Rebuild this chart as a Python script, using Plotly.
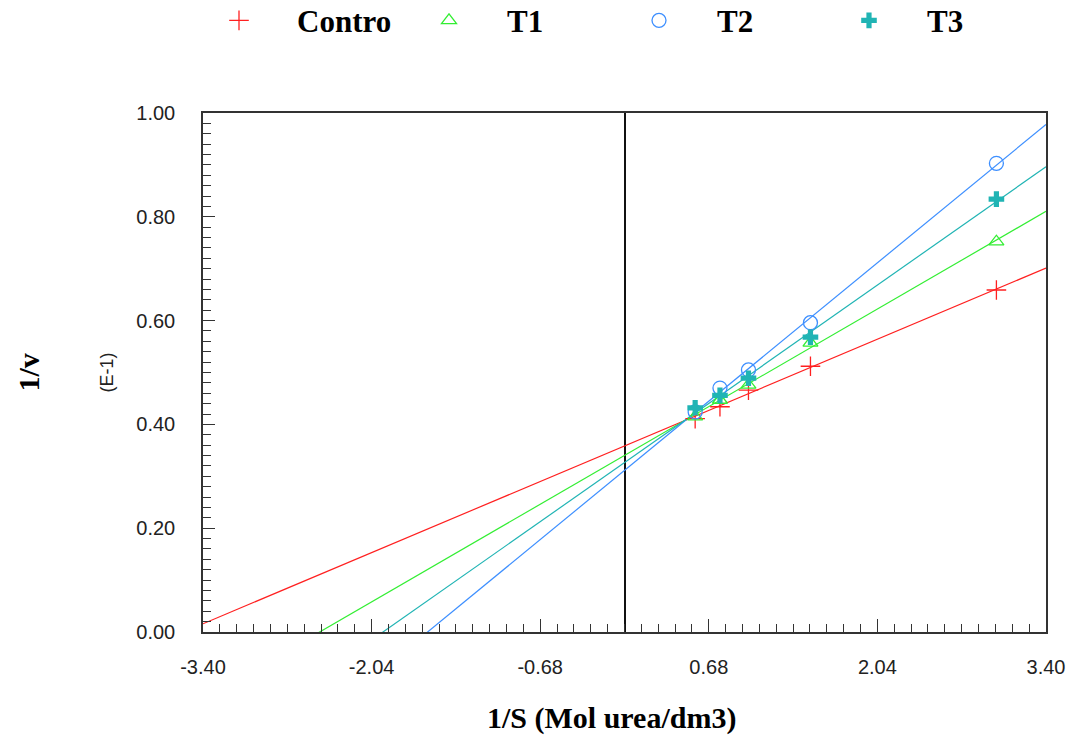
import numpy as np
import plotly.graph_objects as go

# ---- data ----
inv_s = [0.57, 0.77, 1.00, 1.50, 3.00]
control = [0.411, 0.434, 0.466, 0.512, 0.659]
t1 = [0.415, 0.447, 0.476, 0.557, 0.752]
t2 = [0.424, 0.470, 0.505, 0.596, 0.903]
t3 = [0.432, 0.456, 0.489, 0.568, 0.834]

series_names = ["Contro", "T1", "T2", "T3"]
series_values = [control, t1, t2, t3]
colors = ["#ff2020", "#33ee33", "#3d8fff", "#20b4b4"]
symbols = ["cross-thin-open", "triangle-up-open", "circle-open", "cross"]
marker_sizes = [14, 13, 14, 13]

x_range = [-3.40, 3.40]
y_range = [0.0, 1.0]
x_tickvals = [-3.40, -2.04, -0.68, 0.68, 2.04, 3.40]
y_tickvals = [0.0, 0.2, 0.4, 0.6, 0.8, 1.0]

fig = go.Figure()

line_x = np.array(x_range)
for name, vals, col, sym, ms in zip(series_names, series_values, colors, symbols, marker_sizes):
    slope, intercept = np.polyfit(inv_s, vals, 1)
    fig.add_trace(go.Scatter(
        x=line_x, y=slope * line_x + intercept, mode="lines",
        line=dict(color=col, width=1.2), showlegend=False, hoverinfo="skip",
    ))
for name, vals, col, sym, ms in zip(series_names, series_values, colors, symbols, marker_sizes):
    mk = dict(symbol=sym, size=ms, color=col, line=dict(color=col, width=1.3))
    if sym == "cross":
        mk = dict(symbol=sym, size=ms, color=col, line=dict(width=0))
    fig.add_trace(go.Scatter(
        x=inv_s, y=vals, mode="markers", name=name, marker=mk, cliponaxis=False,
    ))

x_minor = np.round(np.arange(x_range[0], x_range[1] + 1e-9, 0.136), 3)
y_minor = np.round(np.arange(0, 1.0001, 0.02), 3)

axis_common = dict(
    showline=True, mirror=True, linecolor="#333333", linewidth=1.5,
    showgrid=False, ticks="inside", tickcolor="#333333", tickwidth=1.2,
    tickfont=dict(family="Liberation Sans, Arial", size=20, color="#222222"),
)

fig.update_xaxes(
    range=x_range, tickmode="array", tickvals=x_tickvals,
    ticktext=[f"{v:.2f}" for v in x_tickvals], ticklen=13,
    zeroline=True, zerolinecolor="#111111", zerolinewidth=1.5,
    minor=dict(tickmode="array", tickvals=list(x_minor), ticks="inside",
               ticklen=8, tickcolor="#333333", tickwidth=1.2),
    ticklabelstandoff=16,
    **axis_common,
)
fig.update_yaxes(
    range=y_range, tickmode="array", tickvals=y_tickvals,
    ticktext=[f"{v:.2f}" for v in y_tickvals], ticklen=12,
    zeroline=False,
    minor=dict(tickmode="array", tickvals=list(y_minor), ticks="inside",
               ticklen=8, tickcolor="#333333", tickwidth=1.2),
    ticklabelstandoff=22,
    **axis_common,
)

fig.add_annotation(
    text="1/S (Mol urea/dm3)", xref="paper", yref="paper", x=0.484, y=0,
    yshift=-86, xanchor="center", yanchor="middle", showarrow=False,
    font=dict(family="Liberation Serif, Times New Roman", size=30, color="black", weight="bold"),
)
fig.add_annotation(
    text="1/v", xref="paper", yref="paper", x=0, y=0.5, xshift=-175,
    xanchor="center", yanchor="middle", textangle=-90, showarrow=False,
    font=dict(family="Liberation Serif, Times New Roman", size=30, color="black", weight="bold"),
)
fig.add_annotation(
    text="(E-1)", xref="paper", yref="paper", x=0, y=0.5, xshift=-97,
    xanchor="center", yanchor="middle", textangle=-90, showarrow=False,
    font=dict(family="Liberation Sans, Arial", size=18, color="#222222"),
)

fig.update_layout(
    width=1069, height=740,
    margin=dict(l=203, r=23, t=113, b=108, autoexpand=False),
    paper_bgcolor="white", plot_bgcolor="white",
    showlegend=True,
    legend=dict(
        orientation="h", xref="container", yref="container",
        x=181 / 1069, xanchor="left", y=0.972, yanchor="middle",
        itemwidth=106, entrywidth=89, entrywidthmode="pixels",
        font=dict(family="Liberation Serif, Times New Roman", size=31, color="black", weight="bold"),
        bgcolor="rgba(0,0,0,0)", itemclick=False,
    ),
)

fig.write_html(
    "out.html",
    config={"displayModeBar": False},
    post_script="document.body.style.margin='0px';document.body.style.overflow='hidden';",
)
